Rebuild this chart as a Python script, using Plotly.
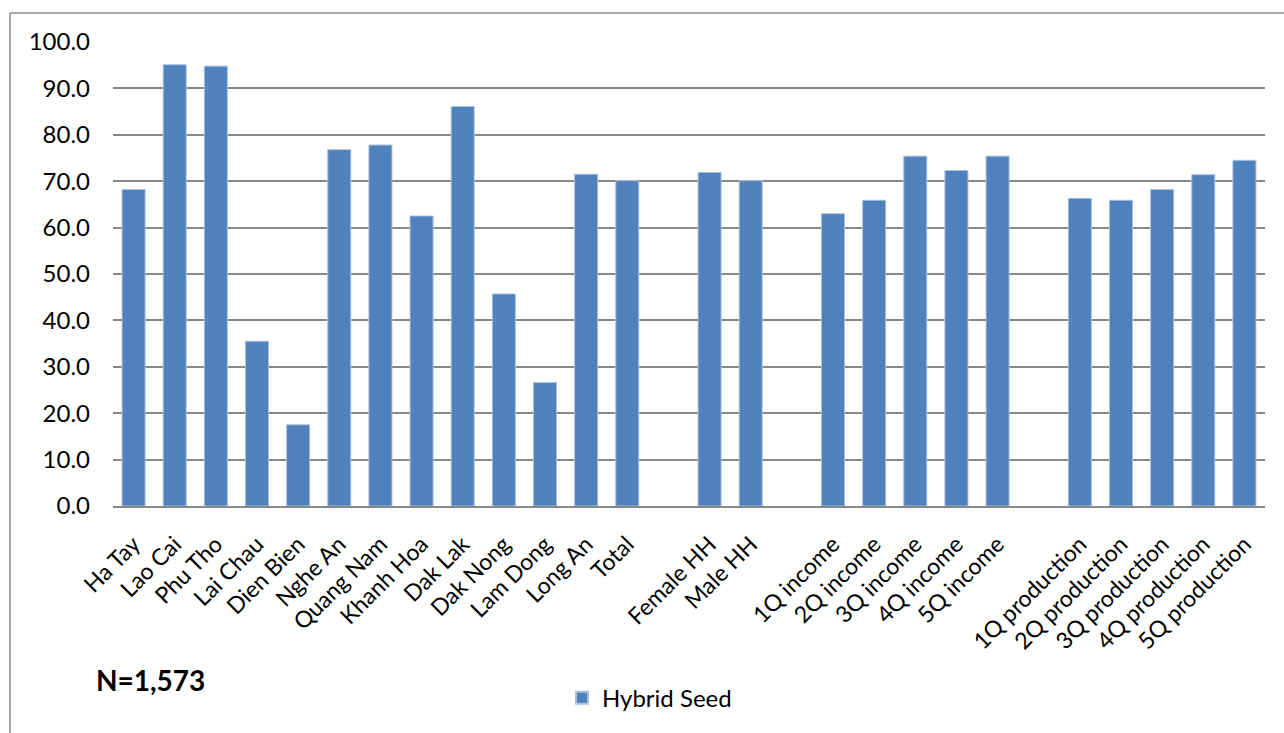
import plotly.graph_objects as go

# Share of households using hybrid seed (%), by province, household head and quintile
categories = [
    "Ha Tay", "Lao Cai", "Phu Tho", "Lai Chau", "Dien Bien", "Nghe An",
    "Quang Nam", "Khanh Hoa", "Dak Lak", "Dak Nong", "Lam Dong", "Long An", "Total",
    "",
    "Female HH", "Male HH",
    "",
    "1Q income", "2Q income", "3Q income", "4Q income", "5Q income",
    "",
    "1Q production", "2Q production", "3Q production", "4Q production", "5Q production",
]
hybrid_seed = [
    68.2, 95.1, 94.8, 35.5, 17.5, 76.8,
    77.8, 62.5, 86.1, 45.7, 26.6, 71.5, 70.1,
    None,
    71.9, 70.1,
    None,
    63.0, 65.9, 75.4, 72.3, 75.4,
    None,
    66.3, 65.9, 68.2, 71.4, 74.5,
]
y_ticks = [0, 10, 20, 30, 40, 50, 60, 70, 80, 90, 100]
sample_note = "N=1,573"

positions = list(range(len(categories)))

FONT = "Lato, Carlito, Calibri, sans-serif"
GRID = "#888888"

fig = go.Figure()
fig.add_trace(go.Bar(
    x=positions,
    y=hybrid_seed,
    name="Hybrid Seed",
    marker=dict(color="#4F81BD", line=dict(color="#A9C1E0", width=1)),
))

# plot area geometry in pixels (used to place the frame and note in paper units)
W, H = 1284, 733
L, R, T, B = 113, 19, 42, 225
pw, ph = W - L - R, H - T - B


def px_x(x):
    return (x - L) / pw


def px_y(y):
    return (H - B - y) / ph


fig.update_layout(
    width=W, height=H,
    margin=dict(l=L, r=R, t=T, b=B, pad=0),
    paper_bgcolor="white",
    plot_bgcolor="white",
    font=dict(family=FONT, color="black", size=23),
    bargap=0.44,
    showlegend=True,
    legend=dict(
        orientation="h",
        x=px_x(562), xanchor="left",
        y=px_y(701), yanchor="middle",
        font=dict(size=24, family=FONT),
        itemsizing="constant",
    ),
    xaxis=dict(
        tickmode="array",
        tickvals=positions,
        ticktext=categories,
        range=[-0.5, len(categories) - 0.5],
        tickangle=-45,
        tickfont=dict(size=23, family=FONT),
        showgrid=False,
        showline=True,
        linecolor=GRID,
        linewidth=1.5,
        ticks="",
        ticklabelstandoff=14,
        automargin=False,
        zeroline=False,
    ),
    yaxis=dict(
        range=[0, 100],
        tickvals=y_ticks,
        tickformat=".1f",
        tickfont=dict(size=24, family=FONT),
        showgrid=True,
        gridcolor=GRID,
        gridwidth=1.5,
        showline=False,
        zeroline=False,
        ticks="",
        ticklabelstandoff=22,
        automargin=False,
    ),
    annotations=[
        dict(
            text="<b>" + sample_note + "</b>",
            xref="paper", yref="paper",
            x=px_x(94), y=px_y(683),
            xanchor="left", yanchor="middle",
            showarrow=False,
            font=dict(size=28, family=FONT, color="black"),
        )
    ],
    shapes=[
        # chart frame (left and top edges)
        dict(type="line", xref="paper", yref="paper",
             x0=px_x(10), x1=px_x(1300), y0=px_y(13), y1=px_y(13),
             line=dict(color="#8C8C8C", width=1.5)),
        dict(type="line", xref="paper", yref="paper",
             x0=px_x(10), x1=px_x(10), y0=px_y(13), y1=px_y(760),
             line=dict(color="#8C8C8C", width=1.5)),
    ],
)

fig.write_html("out.html")
